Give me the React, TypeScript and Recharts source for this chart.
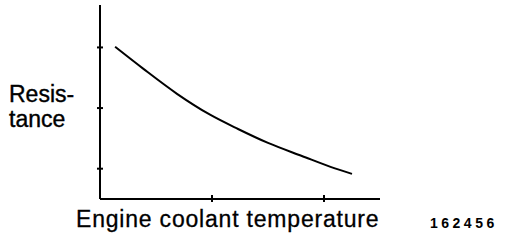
import React from "react";
import { LineChart, Line, XAxis, YAxis } from "recharts";

const temperatures = [5.4, 15.4, 27.5, 39.3, 49.3, 60, 72.1, 83.9, 90];
const resistance = [5.02, 4.3, 3.47, 2.78, 2.31, 1.85, 1.42, 1.01, 0.83];
const xTicks = [40, 80];
const yTicks = [1, 3, 5];
const yLabelLines = ["Resis-", "tance"];
const xLabel = "Engine coolant temperature";
const figureId = "162456";

const data = temperatures.map((t, i) => ({ t, r: resistance[i] }));

const YTick = (props: any) => {
  const { x, y } = props;
  return <line x1={x - 3} x2={x + 3} y1={y} y2={y} stroke="#000" strokeWidth={2} />;
};
const XTick = (props: any) => {
  const { x, y } = props;
  return <line x1={x} x2={x} y1={y - 4} y2={y + 3} stroke="#000" strokeWidth={2} />;
};

export default function App() {
  const font = "'Liberation Sans', Arial, sans-serif";
  return (
    <div style={{ position: "absolute", left: 0, top: 0, width: 512, height: 242, background: "#fff" }}>
      <LineChart
        width={512}
        height={242}
        data={data}
        margin={{ top: 5, right: 132, bottom: 42, left: 99 }}
      >
        <XAxis
          dataKey="t"
          type="number"
          domain={[0, 100]}
          ticks={xTicks}
          height={1}
          tickSize={0}
          tickMargin={0}
          tickLine={false}
          tick={<XTick />}
          axisLine={{ stroke: "#000", strokeWidth: 2 }}
        />
        <YAxis
          type="number"
          domain={[0, 6.4]}
          ticks={yTicks}
          width={1}
          tickSize={0}
          tickMargin={0}
          tickLine={false}
          tick={<YTick />}
          axisLine={{ stroke: "#000", strokeWidth: 2 }}
        />
        <Line
          dataKey="r"
          type="monotone"
          stroke="#000"
          strokeWidth={2}
          dot={false}
          isAnimationActive={false}
        />
      </LineChart>
      <svg
        width={512}
        height={242}
        style={{ position: "absolute", left: 0, top: 0, pointerEvents: "none" }}
      >
        <text x={9} y={101.5} fontFamily={font} fontSize={23} fill="#000" stroke="#000" strokeWidth={0.4}>
          {yLabelLines[0]}
        </text>
        <text x={9} y={127} fontFamily={font} fontSize={23} fill="#000" stroke="#000" strokeWidth={0.4}>
          {yLabelLines[1]}
        </text>
        <text x={76} y={227} fontFamily={font} fontSize={23} letterSpacing={0.8} fill="#000" stroke="#000" strokeWidth={0.3}>
          {xLabel}
        </text>
        <text x={430} y={228} fontFamily={font} fontSize={14} fontWeight="bold" letterSpacing={3.5} fill="#000">
          {figureId}
        </text>
      </svg>
    </div>
  );
}
